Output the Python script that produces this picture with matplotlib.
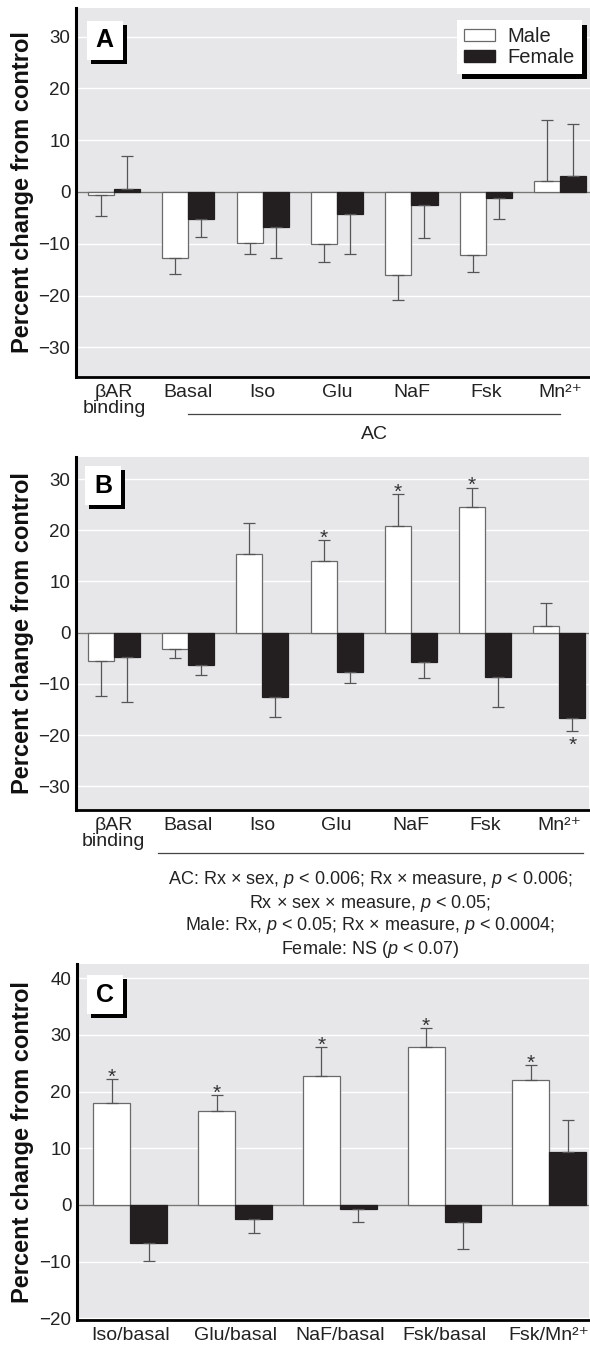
import matplotlib
matplotlib.use('Agg')
import matplotlib.pyplot as plt
import matplotlib.patches as mpatches
import matplotlib.patheffects as pe
import matplotlib.transforms as mtransforms

plt.rcParams['font.family'] = ['Liberation Sans', 'DejaVu Sans']
plt.rcParams['mathtext.fontset'] = 'custom'
plt.rcParams['mathtext.rm'] = 'Liberation Sans'
plt.rcParams['mathtext.it'] = 'Liberation Sans:italic'
plt.rcParams['mathtext.bf'] = 'Liberation Sans:bold'
plt.rcParams['mathtext.default'] = 'regular'

# ---------------------------------------------------------------- data
labels_ab = ['βAR\nbinding', 'Basal', 'Iso', 'Glu', 'NaF', 'Fsk', 'Mn²⁺']

a_male = [-0.5, -12.7, -9.8, -10.0, -16.1, -12.1, 2.1]
a_male_err = [4.2, 3.2, 2.2, 3.5, 4.7, 3.4, 11.8]
a_female = [0.6, -5.2, -6.8, -4.3, -2.5, -1.2, 3.0]
a_female_err = [6.4, 3.4, 6.0, 7.7, 6.3, 4.0, 10.2]

b_male = [-5.5, -3.2, 15.3, 14.0, 20.8, 24.5, 1.4]
b_male_err = [6.9, 1.7, 6.1, 4.1, 6.3, 3.8, 4.4]
b_female = [-4.7, -6.3, -12.5, -7.6, -5.7, -8.7, -16.6]
b_female_err = [8.8, 2.0, 3.9, 2.2, 3.2, 5.8, 2.6]
b_male_star = [False, False, False, True, True, True, False]
b_female_star = [False, False, False, False, False, False, True]

labels_c = ['Iso/basal', 'Glu/basal', 'NaF/basal', 'Fsk/basal', 'Fsk/Mn²⁺']
c_male = [18.0, 16.5, 22.7, 27.8, 22.0]
c_male_err = [4.2, 2.9, 5.1, 3.4, 2.7]
c_female = [-6.8, -2.4, -0.65, -3.0, 9.3]
c_female_err = [3.1, 2.5, 2.45, 4.8, 5.6]
c_male_star = [True, True, True, True, True]
c_female_star = [False, False, False, False, False]

stats_lines = [
    'AC: Rx × sex, $\\mathit{p}$ < 0.006; Rx × measure, $\\mathit{p}$ < 0.006;',
    'Rx × sex × measure, $\\mathit{p}$ < 0.05;',
    'Male: Rx, $\\mathit{p}$ < 0.05; Rx × measure, $\\mathit{p}$ < 0.0004;',
    'Female: NS ($\\mathit{p}$ < 0.07)',
]

# ---------------------------------------------------------------- style
W, H = 590, 1349
bg = '#e7e7e9'
edge_grey = '#6a6a6a'
female_col = '#231f20'
err_col = '#555555'
txt_col = '#222222'

fig = plt.figure(figsize=(W / 100, H / 100), dpi=100)


def px_axes(left, top, right, bottom):
    return fig.add_axes([left / W, 1 - bottom / H, (right - left) / W, (bottom - top) / H])


def one_sided(vals, errs):
    lower = [e if v < 0 else 0 for v, e in zip(vals, errs)]
    upper = [e if v >= 0 else 0 for v, e in zip(vals, errs)]
    return [lower, upper]


def draw_panel(ax, labels, male, male_err, female, female_err, width,
               male_star=None, female_star=None):
    x = list(range(len(labels)))
    xm = [i - width / 2 for i in x]
    xf = [i + width / 2 for i in x]
    ax.set_facecolor(bg)
    ax.bar(xm, male, width, color='white', edgecolor=edge_grey, linewidth=0.9, zorder=3)
    ax.bar(xf, female, width, color=female_col, edgecolor=female_col, linewidth=0.9, zorder=3)
    ax.errorbar(xm, male, yerr=one_sided(male, male_err), fmt='none', ecolor=err_col,
                elinewidth=0.9, capsize=4.5, capthick=0.9, zorder=4)
    ax.errorbar(xf, female, yerr=one_sided(female, female_err), fmt='none', ecolor=err_col,
                elinewidth=0.9, capsize=4.5, capthick=0.9, zorder=4)
    ax.axhline(0, color='#777777', lw=1.0, zorder=2.5)
    for stars, xs, vals, errs in ((male_star, xm, male, male_err),
                                  (female_star, xf, female, female_err)):
        if stars is None:
            continue
        for s, xi, v, e in zip(stars, xs, vals, errs):
            if not s:
                continue
            if v >= 0:
                ax.annotate('*', (xi, v + e), xytext=(0, -2.5), textcoords='offset points',
                            ha='center', va='baseline', fontsize=15, color='#333333', zorder=5)
            else:
                ax.annotate('*', (xi, v - e), xytext=(0, -14), textcoords='offset points',
                            ha='center', va='baseline', fontsize=15, color='#333333', zorder=5)
    ax.set_xticks(x)
    ax.set_xticklabels(labels, linespacing=0.95)
    ax.grid(axis='y', color='white', lw=1.0)
    ax.set_axisbelow(True)
    for side in ('top', 'right'):
        ax.spines[side].set_visible(False)
    ax.spines['left'].set_linewidth(2.2)
    ax.spines['bottom'].set_linewidth(2.0)
    ax.tick_params(length=0, colors=txt_col)
    ax.tick_params(axis='x', pad=5, labelsize=14)
    ax.tick_params(axis='y', pad=4, labelsize=13.5)


def panel_letter(ax, letter, cx, cy):
    bb = ax.get_window_extent()
    bw, bh = 36 / bb.width, 39 / bb.height
    sx, sy = 4 / bb.width, 4 / bb.height
    ax.add_patch(mpatches.Rectangle((cx - bw / 2 + sx, cy - bh / 2 - sy), bw, bh,
                                    transform=ax.transAxes, fc='black', ec='none', zorder=6))
    ax.add_patch(mpatches.Rectangle((cx - bw / 2, cy - bh / 2), bw, bh,
                                    transform=ax.transAxes, fc='white', ec='none', zorder=7))
    ax.text(cx, cy, letter, transform=ax.transAxes, ha='center', va='center',
            fontsize=18, fontweight='bold', zorder=8)


def ylabel(ax):
    pos = ax.get_position()
    fig.text(23 / W, pos.y0 + pos.height / 2, 'Percent change from control', rotation=90,
             ha='center', va='center', fontsize=17, fontweight='bold', color='#111111')


# ---------------------------------------------------------------- panel A
axA = px_axes(76, 8, 590, 377)
draw_panel(axA, labels_ab, a_male, a_male_err, a_female, a_female_err, 0.35)
axA.set_xlim(-0.51, 6.4)
axA.set_ylim(-35.7, 35.5)
axA.set_yticks([-30, -20, -10, 0, 10, 20, 30])
axA.set_yticklabels(['−30', '−20', '−10', '0', '10', '20', '30'])
panel_letter(axA, 'A', 0.056, 0.913)
ylabel(axA)
tA = mtransforms.blended_transform_factory(axA.transData, axA.transAxes)
axA.plot([1, 6], [-0.1, -0.1], color='#444444', lw=0.9, transform=tA, clip_on=False)
axA.text(3.5, -0.157, 'AC', transform=tA, ha='center', va='center', fontsize=14, color=txt_col)

handles = [mpatches.Patch(facecolor='white', edgecolor=edge_grey, linewidth=0.9, label='Male'),
           mpatches.Patch(facecolor=female_col, edgecolor=female_col, label='Female')]
leg = axA.legend(handles=handles, loc='upper right', bbox_to_anchor=(0.984, 0.967),
                 fontsize=14.5, frameon=True, fancybox=False, borderaxespad=0,
                 handlelength=1.55, handleheight=0.5, handletextpad=0.6,
                 labelspacing=0.1, borderpad=0.35)
for t in leg.get_texts():
    t.set_color(txt_col)
frame = leg.get_frame()
frame.set_facecolor('white')
frame.set_edgecolor('none')
frame.set_alpha(1)
frame.set_path_effects([pe.SimplePatchShadow(offset=(3.5, -3.5), shadow_rgbFace='black', alpha=1.0),
                        pe.Normal()])
leg.set_zorder(9)

# ---------------------------------------------------------------- panel B
axB = px_axes(76, 457, 589, 810)
draw_panel(axB, labels_ab, b_male, b_male_err, b_female, b_female_err, 0.35,
           b_male_star, b_female_star)
axB.set_xlim(-0.51, 6.4)
axB.set_ylim(-34.6, 34.3)
axB.set_yticks([-30, -20, -10, 0, 10, 20, 30])
axB.set_yticklabels(['−30', '−20', '−10', '0', '10', '20', '30'])
panel_letter(axB, 'B', 0.053, 0.918)
ylabel(axB)
tB = mtransforms.blended_transform_factory(axB.transData, axB.transAxes)
axB.plot([0.6, 6.32], [-0.121, -0.121], color='#444444', lw=0.9, transform=tB, clip_on=False)

for i, line in enumerate(stats_lines):
    fig.text(370 / W, 1 - (880 + 23 * i) / H, line, ha='center', va='center',
             fontsize=13, color=txt_col)

# ---------------------------------------------------------------- panel C
axC = px_axes(77, 964, 589, 1320)
draw_panel(axC, labels_c, c_male, c_male_err, c_female, c_female_err, 0.353,
           c_male_star, c_female_star)
axC.set_xlim(-0.51, 4.38)
axC.set_ylim(-20.3, 42.5)
axC.set_yticks([-20, -10, 0, 10, 20, 30, 40])
axC.set_yticklabels(['−20', '−10', '0', '10', '20', '30', '40'])
panel_letter(axC, 'C', 0.055, 0.913)
ylabel(axC)

fig.savefig('out.png', dpi=100, facecolor='white')
